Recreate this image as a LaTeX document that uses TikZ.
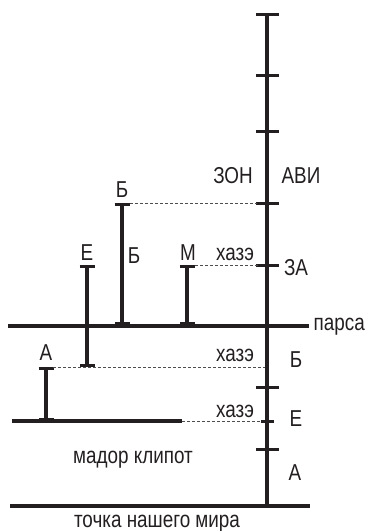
\documentclass[tikz,border=0pt]{standalone}
\usepackage{fontspec}
\setmainfont{Liberation Sans}[FakeStretch=0.82]
\usepackage{xcolor}
\usetikzlibrary{arrows.meta}
\definecolor{lineDark}{HTML}{231F20}
\definecolor{dashGray}{HTML}{4D4D4D}

\begin{document}
\begin{tikzpicture}[x=1pt, y=-1pt,
        axis/.style={line width=3.2pt, lineDark},
        tick/.style={line width=3pt, lineDark},
        bar/.style={line width=3.2pt, lineDark, {Bar[width=15pt]}-{Bar[width=15pt]}},
        hz/.style={line width=0.8pt, dashGray, dash pattern=on 3pt off 2pt},
        lbl/.style={font=\fontsize{23}{27}\selectfont, inner sep=0pt, anchor=base, text=lineDark},
    ]
        \useasboundingbox (0,0) rectangle (367,531);

        % main scale
        \coordinate (axTop) at (267,14);
        \coordinate (axBot) at (267,506);
        \draw[axis] (axTop) -- (axBot);
        \foreach \y in {14,75,131,203,265,387,449}
            \draw[tick] (256,\y) -- (279,\y);
        \draw[tick] (261,421) -- (274,421);

        % parsa and ground
        \coordinate (parsaL) at (8,326);
        \coordinate (parsaR) at (309,326);
        \draw[axis] (parsaL) -- (parsaR);
        \coordinate (groundL) at (10,506);
        \coordinate (groundR) at (310,506);
        \draw[axis] (groundL) -- (groundR);

        % klipot line
        \coordinate (klipL) at (12,421);
        \coordinate (klipM) at (182,421);
        \coordinate (klipR) at (262,421);
        \draw[axis] (klipL) -- (klipM);
        \draw[hz] (klipM) -- (klipR);

        % bars
        \coordinate (bTop) at (122,203);
        \coordinate (bBot) at (122,325);
        \coordinate (eTop) at (87,265);
        \coordinate (eBot) at (87,367);
        \coordinate (mTop) at (187,265);
        \coordinate (mBot) at (187,325);
        \coordinate (aTop) at (46,367);
        \coordinate (aBot) at (46,421);
        \draw[bar] (bTop) -- (bBot);
        \draw[bar] (eTop) -- (eBot);
        \draw[bar] (mTop) -- (mBot);
        \draw[bar] (aTop) -- (aBot);

        % dashed levels
        \draw[hz] ([xshift=8pt]bTop) -- (257,203);
        \draw[hz] ([xshift=8pt]mTop) -- (258,265);
        \draw[hz] ([xshift=7pt]aTop) -- (265,367);

        % labels at bars
        \node[lbl] (lbB) at (122,197) {Б};
        \node[lbl] (lbBr) at (134,263) {Б};
        \node[lbl] (lbE) at (87,260) {Е};
        \node[lbl] (lbM) at (188,260) {М};
        \node[lbl] (lbA) at (46,360) {А};

        % labels at scale
        \node[lbl] (zon) at (233,183) {ЗОН};
        \node[lbl] (avi) at (301,183) {АВИ};
        \node[lbl] (hz1) at (235,260) {хазэ};
        \node[lbl] (za) at (296,275) {ЗА};
        \node[lbl] (hz2) at (235,361) {хазэ};
        \node[lbl] (sB) at (296,367) {Б};
        \node[lbl] (hz3) at (235,417) {хазэ};
        \node[lbl] (sE) at (296,426) {Е};
        \node[lbl] (sA) at (295,480) {А};
        \node[lbl, anchor=base east] (parsa) at (365,330) {парса};
        \node[lbl] (klipot) at (133,463) {мадор клипот};
        \node[lbl] (point) at (157,527) {точка нашего мира};
\end{tikzpicture}
\end{document}
